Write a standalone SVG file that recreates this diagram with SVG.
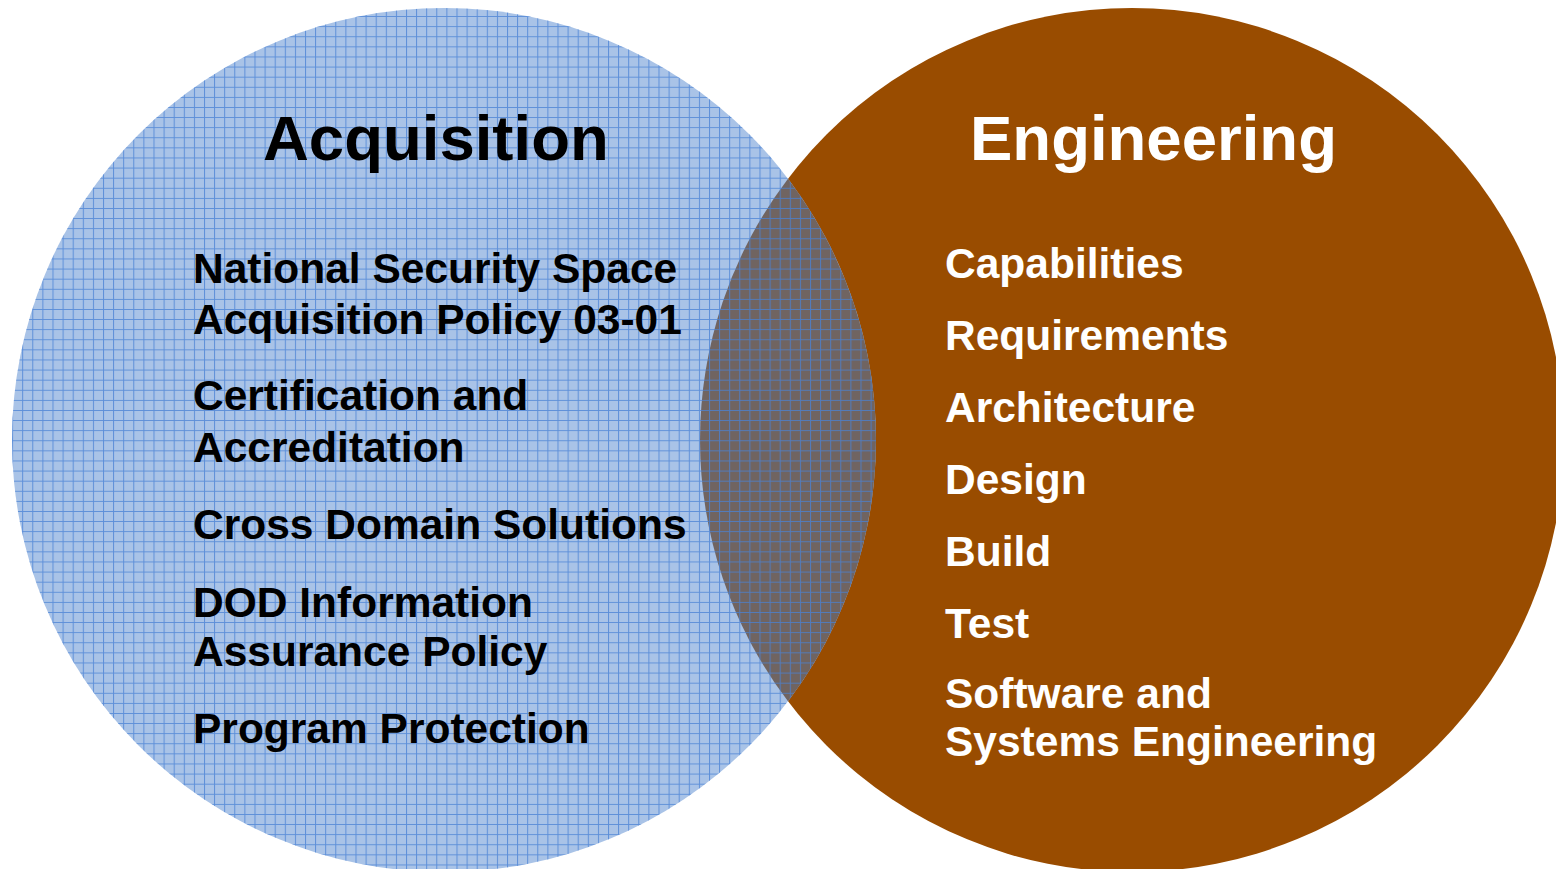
<svg xmlns="http://www.w3.org/2000/svg" width="1556" height="869" viewBox="0 0 1556 869">
  <style>
    .title { font-family: "Liberation Sans", Arial, sans-serif; font-weight: bold; font-size: 63.5px; }
    .item { font-family: "Liberation Sans", Arial, sans-serif; font-weight: bold; font-size: 42.5px; }
    .dark { fill: #000000; }
    .light { fill: #ffffff; }
  </style>
  <defs>
    <pattern id="grid" patternUnits="userSpaceOnUse" x="2" y="6" width="10.1" height="10.1">
      <path d="M0 0.5 H10.1 M0.5 0 V10.1" stroke="#4a82d4" stroke-opacity="0.8" stroke-width="1" fill="none"/>
    </pattern>
  </defs>
  <rect x="0" y="0" width="1556" height="869" fill="#ffffff"/>

  <g id="engineering-circle">
    <circle cx="1132" cy="440" r="432" fill="#994c00"/>
  </g>

  <g id="acquisition-circle">
    <circle cx="444" cy="440" r="432" fill="#a9c3e7"/>
    <path d="M788 178.7 A432 432 0 0 1 788 701.3 A432 432 0 0 1 788 178.7 Z" fill="#706461"/>
    <circle cx="444" cy="440" r="432" fill="url(#grid)"/>
  </g>

  <g id="acquisition-text">
    <text class="title dark" x="263" y="160">Acquisition</text>
    <text class="item dark" x="193" y="283">National Security Space</text>
    <text class="item dark" x="193" y="334">Acquisition Policy 03-01</text>
    <text class="item dark" x="193" y="410">Certification and</text>
    <text class="item dark" x="193" y="462">Accreditation</text>
    <text class="item dark" x="193" y="539">Cross Domain Solutions</text>
    <text class="item dark" x="193" y="617">DOD Information</text>
    <text class="item dark" x="193" y="666">Assurance Policy</text>
    <text class="item dark" x="193" y="743">Program Protection</text>
  </g>

  <g id="engineering-text">
    <text class="title light" x="970" y="160">Engineering</text>
    <text class="item light" x="945" y="278">Capabilities</text>
    <text class="item light" x="945" y="350">Requirements</text>
    <text class="item light" x="945" y="422">Architecture</text>
    <text class="item light" x="945" y="494">Design</text>
    <text class="item light" x="945" y="566">Build</text>
    <text class="item light" x="945" y="638">Test</text>
    <text class="item light" x="945" y="708">Software and</text>
    <text class="item light" x="945" y="756">Systems Engineering</text>
  </g>
</svg>
